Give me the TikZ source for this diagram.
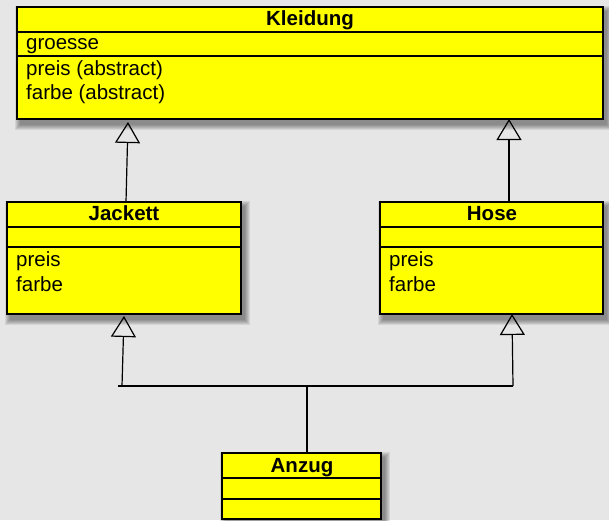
\documentclass[tikz,border=0pt]{standalone}
\usepackage{fontspec}
\setmainfont{Liberation Sans}
\usetikzlibrary{arrows.meta}
\definecolor{bgcol}{HTML}{E6E6E6}
\definecolor{boxyellow}{HTML}{FFFF00}
\newcommand\myshadow[4]{%
  \foreach \k in {0,...,5}{\fill[black,opacity=0.08] ({#1+3-\k},{#2+4-\k}) rectangle ({#3+4+\k},{#4+6+\k});}}
\begin{document}
\begin{tikzpicture}[x=1pt,y=-1pt,
  classbox/.style={draw=black,line width=1.3pt,fill=boxyellow,anchor=north west,inner sep=0pt,outer sep=0pt},
  divider/.style={draw=black,line width=1.3pt},
  title/.style={anchor=base,font=\fontsize{20.5}{24}\selectfont\bfseries,inner sep=0pt},
  member/.style={anchor=base west,font=\fontsize{20.5}{24}\selectfont,inner sep=0pt},
  conn/.style={draw=black,line width=1.2pt},
  gen/.style={conn,-{Triangle[open,length=21pt,width=25pt]},line join=miter}]
\fill[bgcol] (0,0) rectangle (609,520);
\useasboundingbox (0,0) rectangle (609,520);
% shadows
\myshadow{17}{7}{603}{119}
\myshadow{7}{202}{241}{314}
\myshadow{380}{202}{603}{314}
\myshadow{222}{453}{381}{525}
% Kleidung
\node[classbox,minimum width=586pt,minimum height=112pt] (kleidung) at (17,7) {};
\draw[divider] (kleidung.west |- 0,32) -- (kleidung.east |- 0,32);
\draw[divider] (kleidung.west |- 0,56) -- (kleidung.east |- 0,56);
\node[title] (kleidungT) at (310,25) {Kleidung};
\node[member] (kleidungA) at (26,49) {groesse};
\node[member] (kleidungM1) at (26,75) {preis (abstract)};
\node[member] (kleidungM2) at (26,99) {farbe (abstract)};
% Jackett
\node[classbox,minimum width=234pt,minimum height=112pt] (jackett) at (7,202) {};
\draw[divider] (jackett.west |- 0,227) -- (jackett.east |- 0,227);
\draw[divider] (jackett.west |- 0,247) -- (jackett.east |- 0,247);
\node[title] (jackettT) at (124,220) {Jackett};
\node[member] (jackettM1) at (16,266) {preis};
\node[member] (jackettM2) at (16,291) {farbe};
% Hose
\node[classbox,minimum width=223pt,minimum height=112pt] (hose) at (380,202) {};
\draw[divider] (hose.west |- 0,227) -- (hose.east |- 0,227);
\draw[divider] (hose.west |- 0,247) -- (hose.east |- 0,247);
\node[title] (hoseT) at (492,220) {Hose};
\node[member] (hoseM1) at (389,266) {preis};
\node[member] (hoseM2) at (389,291) {farbe};
% Anzug
\node[classbox,minimum width=159pt,minimum height=66pt] (anzug) at (222,453) {};
\draw[divider] (anzug.west |- 0,478) -- (anzug.east |- 0,478);
\draw[divider] (anzug.west |- 0,499) -- (anzug.east |- 0,499);
\node[title] (anzugT) at (302,472) {Anzug};
% connectors
\coordinate (jkTop) at (126,202);
\coordinate (kLeft) at (128,122);
\coordinate (hsTop) at (509,202);
\coordinate (kRight) at (509,119);
\draw[gen] (jkTop) -- (kLeft);
\draw[gen] (hsTop) -- (kRight);
\coordinate (busL) at (118,386);
\coordinate (busJ) at (122,386);
\coordinate (busH) at (513,386);
\coordinate (jkBot) at (124,316);
\coordinate (hsBot) at (512,314);
\draw[conn] (anzug.north -| 307,0) -- (307,386);
\draw[conn] (busL) -- (busH);
\draw[gen] (busJ) -- (jkBot);
\draw[gen] (busH) -- (hsBot);
\end{tikzpicture}
\end{document}
